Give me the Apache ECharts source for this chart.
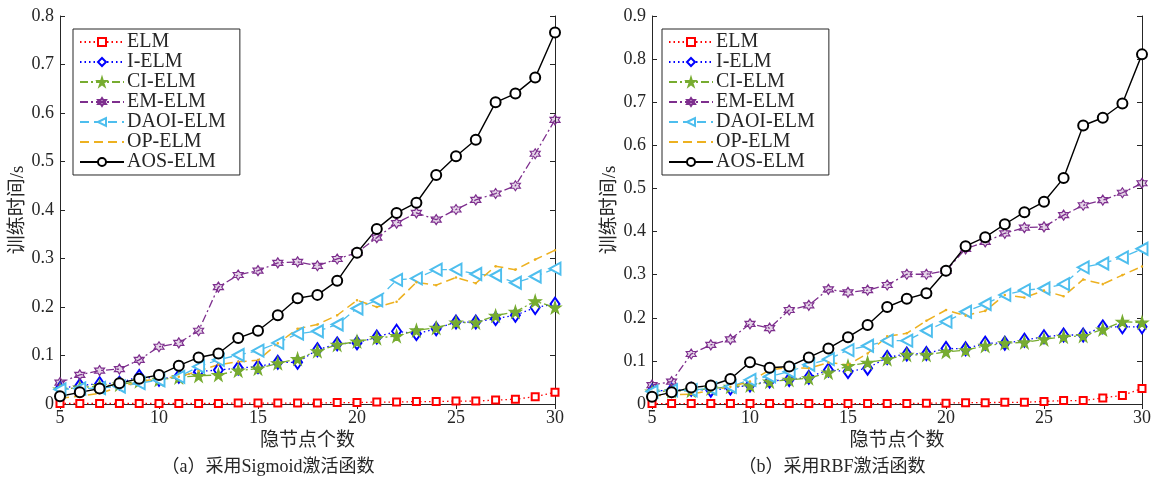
<!DOCTYPE html>
<html><head><meta charset="utf-8">
<script src="https://cdn.jsdelivr.net/npm/echarts@6/dist/echarts.min.js"></script>
<style>html,body{margin:0;padding:0;background:#fff}#c{width:1163px;height:480px}</style>
</head><body><div id="c"></div>
<script>
const nodes = [5,6,7,8,9,10,11,12,13,14,15,16,17,18,19,20,21,22,23,24,25,26,27,28,29,30];
const seriesNames = ['ELM','I-ELM','CI-ELM','EM-ELM','DAOI-ELM','OP-ELM','AOS-ELM'];
const xTicks = [5,10,15,20,25,30];
const yTicksA = [0,0.1,0.2,0.3,0.4,0.5,0.6,0.7,0.8];
const yTicksB = [0,0.1,0.2,0.3,0.4,0.5,0.6,0.7,0.8,0.9];

// (a) Sigmoid
const elmA  = [0.001,0.001,0.001,0.001,0.001,0.001,0.001,0.001,0.001,0.002,0.002,0.002,0.002,0.002,0.003,0.003,0.004,0.004,0.005,0.005,0.006,0.006,0.008,0.010,0.015,0.024];
const ielmA = [0.032,0.038,0.042,0.043,0.057,0.051,0.057,0.067,0.070,0.074,0.077,0.086,0.086,0.112,0.124,0.126,0.138,0.150,0.145,0.155,0.169,0.169,0.176,0.183,0.199,0.206];
const ciA   = [0.030,0.034,0.037,0.040,0.047,0.050,0.055,0.058,0.060,0.069,0.073,0.084,0.093,0.109,0.122,0.129,0.136,0.140,0.152,0.157,0.168,0.168,0.182,0.190,0.212,0.199];
const emA   = [0.044,0.060,0.069,0.072,0.091,0.118,0.126,0.151,0.241,0.266,0.275,0.291,0.293,0.285,0.299,0.312,0.343,0.373,0.394,0.380,0.401,0.421,0.434,0.450,0.516,0.586];
const daoiA = [0.030,0.032,0.033,0.036,0.043,0.049,0.056,0.077,0.091,0.101,0.110,0.126,0.145,0.150,0.164,0.197,0.214,0.256,0.259,0.277,0.277,0.268,0.265,0.250,0.263,0.279];
const opA   = [0.012,0.016,0.022,0.035,0.046,0.053,0.056,0.068,0.081,0.087,0.090,0.125,0.155,0.164,0.183,0.214,0.200,0.211,0.251,0.245,0.261,0.249,0.284,0.277,0.298,0.317];
const aosA  = [0.016,0.024,0.032,0.043,0.052,0.060,0.079,0.096,0.104,0.136,0.151,0.183,0.218,0.225,0.254,0.312,0.361,0.394,0.415,0.472,0.511,0.545,0.622,0.640,0.673,0.766];

// (b) RBF
const elmB  = [0.001,0.001,0.001,0.001,0.001,0.001,0.001,0.001,0.001,0.001,0.001,0.001,0.001,0.001,0.002,0.002,0.003,0.003,0.004,0.004,0.006,0.008,0.008,0.014,0.020,0.036];
const ielmB = [0.030,0.032,0.034,0.032,0.037,0.044,0.053,0.057,0.062,0.079,0.075,0.083,0.108,0.116,0.117,0.129,0.128,0.141,0.141,0.148,0.156,0.160,0.160,0.179,0.179,0.179];
const ciB   = [0.029,0.030,0.031,0.036,0.040,0.043,0.052,0.056,0.060,0.073,0.088,0.096,0.104,0.114,0.114,0.121,0.125,0.135,0.141,0.143,0.150,0.156,0.158,0.173,0.191,0.189];
const emB   = [0.044,0.052,0.116,0.137,0.150,0.186,0.176,0.218,0.229,0.266,0.259,0.264,0.276,0.301,0.301,0.309,0.360,0.376,0.396,0.409,0.411,0.438,0.461,0.473,0.490,0.512];
const daoiB = [0.029,0.032,0.032,0.036,0.040,0.056,0.064,0.075,0.091,0.104,0.125,0.135,0.147,0.147,0.170,0.191,0.214,0.232,0.253,0.264,0.268,0.278,0.317,0.326,0.340,0.360];
const opB   = [0.019,0.021,0.023,0.031,0.040,0.052,0.079,0.085,0.083,0.096,0.091,0.117,0.157,0.164,0.193,0.218,0.205,0.216,0.253,0.247,0.263,0.250,0.289,0.278,0.299,0.319];
const aosB  = [0.017,0.027,0.038,0.043,0.058,0.097,0.084,0.087,0.108,0.129,0.155,0.183,0.225,0.244,0.257,0.309,0.366,0.387,0.417,0.445,0.469,0.524,0.646,0.664,0.697,0.811];

const valsA = [elmA, ielmA, ciA, emA, daoiA, opA, aosA];
const valsB = [elmB, ielmB, ciB, emB, daoiB, opB, aosB];

const FONT = '"Liberation Serif","Noto Sans CJK SC",serif';
const TXT = '#262626';
const STAR = 'path://M50,0 L61,35 L98,35 L68,57 L79,91 L50,70 L21,91 L32,57 L2,35 L39,35 Z';
const HEX = 'path://M50,0 L64,25 L93,25 L79,50 L93,75 L64,75 L50,100 L36,75 L7,75 L21,50 L7,25 L36,25 Z';
const DOT = 'path://M0,0 L0.01,0 L0,0.01 Z M100,100 L100.01,100 L100,100.01 Z M42,50 A8,8 0 1,1 58,50 A8,8 0 1,1 42,50 Z';

const styles = [
  {color:'#ff0000', type:[1.5,3], width:1.3, symbol:'emptyRect', size:7},
  {color:'#0000ff', type:[1.5,3], width:1.3, symbol:'emptyDiamond', size:[9,13]},
  {color:'#77ac30', type:[8,3,2,3], width:1.3, symbol:STAR, size:12, fill:'#77ac30'},
  {color:'#7e2f8e', type:[8,3,2,3], width:1.3, symbol:HEX, size:10, fill:'rgba(126,47,142,0.2)'},
  {color:'#4dbeee', type:[9,5], width:1.3, symbol:'emptyTriangle', size:[12,11], rotate:90},
  {color:'#edb120', type:[9,5], width:1.5, symbol:DOT, size:16, fill:'#edb120', noBorder:true},
  {color:'#000000', type:'solid', width:1.4, symbol:'emptyCircle', size:10}
];

function mkSeries(vals, xi, yi) {
  return vals.map((v, k) => {
    const s = styles[k];
    const item = {color: s.fill || s.color, borderColor:s.color, borderWidth: s.noBorder ? 0 : 1.2};
    return {
      name: seriesNames[k], type:'line', xAxisIndex:xi, yAxisIndex:yi,
      data: nodes.map((n,i)=>[n, v[i]]),
      symbol: s.symbol, symbolSize: s.size, symbolRotate: s.rotate || 0,
      showAllSymbol: true, animation:false,
      lineStyle:{color:s.color, type:s.type, width:s.width},
      itemStyle:item
    };
  });
}

function xAx(grid, top) {
  return {type:'value', gridIndex:grid, min:5, max:30, interval:5, position: top?'top':'bottom',
    name: top ? '' : '隐节点个数', nameLocation:'middle', nameGap:27,
    nameTextStyle:{fontFamily:FONT, fontSize:19, color:TXT},
    axisLine:{lineStyle:{color:'#262626', width:1}},
    axisTick:{inside:true, length:5, lineStyle:{color:'#262626'}},
    axisLabel:{show:!top, fontFamily:FONT, fontSize:18, color:TXT, margin:5},
    splitLine:{show:false}};
}
function yAx(grid, right, max) {
  return {type:'value', gridIndex:grid, min:0, max:max, interval:0.1, position: right?'right':'left',
    name: right ? '' : '训练时间/s', nameLocation:'middle', nameGap:32, nameRotate:90,
    nameTextStyle:{fontFamily:FONT, fontSize:19, color:TXT},
    axisLine:{show:true, lineStyle:{color:'#262626', width:1}},
    axisTick:{show:true, inside:true, length:5, lineStyle:{color:'#262626'}},
    axisLabel:{show:!right, fontFamily:FONT, fontSize:18, color:TXT, margin:6,
      formatter: v => (Math.round(v*10)/10).toString()},
    splitLine:{show:false}};
}
function legend(left) {
  return {orient:'vertical', left:left, top:29, data:seriesNames,
    itemWidth:44, itemHeight:10, itemGap:0,
    backgroundColor:'#fff', borderColor:'#262626', borderWidth:1, padding:[3,14,3,6],
    textStyle:{fontFamily:FONT, fontSize:20, lineHeight:19.6, color:TXT, padding:[0,0,0,-2]}, selectedMode:false};
}

const chart = echarts.init(document.getElementById('c'), null, {renderer:'canvas'});
chart.setOption({
  animation:false,
  backgroundColor:'#fff',
  grid:[{left:60, top:16, width:495, height:388}, {left:652, top:16, width:490, height:388}],
  xAxis:[xAx(0,false), xAx(0,true), xAx(1,false), xAx(1,true)],
  yAxis:[yAx(0,false,0.8), yAx(0,true,0.8), yAx(1,false,0.9), yAx(1,true,0.9)],
  legend:[legend(73), legend(662)],
  graphic:[
    {type:'text', x:268, y:458, style:{text:'（a）采用Sigmoid激活函数', font:'18px '+FONT, fill:TXT, align:'center'}},
    {type:'text', x:832, y:458, style:{text:'（b）采用RBF激活函数', font:'18px '+FONT, fill:TXT, align:'center'}}
  ],
  series:[...mkSeries(valsA,0,0), ...mkSeries(valsB,2,2)]
});
</script></body></html>
